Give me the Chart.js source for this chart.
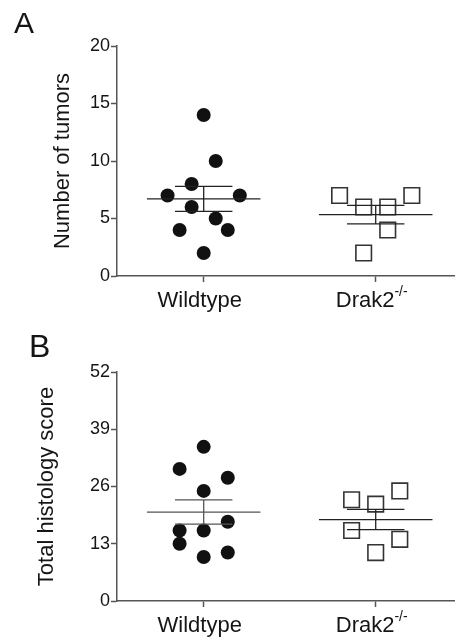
<!DOCTYPE html>
<html>
<head>
<meta charset="utf-8">
<script src="https://cdn.jsdelivr.net/npm/chart.js@4"></script>
<style>
  html, body { margin: 0; padding: 0; background: #fff; }
  .panel { position: relative; width: 455px; }
</style>
</head>
<body>
<div class="panel" style="height:320px"><canvas id="chartA" width="455" height="320"></canvas></div>
<div class="panel" style="height:318px"><canvas id="chartB" width="455" height="318"></canvas></div>
<script>
// groups on the x axis (second one gets a superscript)
const groups = ['Wildtype', 'Drak2'];
const groupSup = ['', '-/-'];

// panel A: number of tumors
const tumorsWT = [14, 10, 8, 7, 7, 6, 5, 4, 4, 2];
const tumorsKO = [7, 6, 6, 7, 4, 2];
// scatter slot of each dot (1 slot = one dot width sideways)
const tumorsWTSlot = [0, 1, -1, -3, 3, -1, 1, -2, 2, 0];
const tumorsKOSlot = [-3, -1, 1, 3, 1, -1];
const tumorsTicks = [0, 5, 10, 15, 20];

// panel B: total histology score
const histoWT = [35, 30, 28, 25, 18, 16, 16, 13, 11, 10];
const histoKO = [25, 23, 22, 16, 14, 11];
const histoWTSlot = [0, -2, 2, 0, 2, -2, 0, -2, 2, 0];
const histoKOSlot = [2, -2, 0, -2, 2, 0];
const histoTicks = [0, 13, 26, 39, 52];

const FONT = "'Liberation Sans', Arial, Helvetica, sans-serif";
const SLOT = 0.07;
const AXIS = '#555';
const TEXT = '#151515';

const mean = a => a.reduce((s, v) => s + v, 0) / a.length;
const sem = a => {
  const m = mean(a);
  return Math.sqrt(a.reduce((s, v) => s + (v - m) ** 2, 0) / (a.length - 1) / a.length);
};

function dots(vals, slots, center) {
  return vals.map((v, i) => ({ x: center + slots[i] * SLOT, y: v }));
}

function seg(x1, y1, x2, y2, color) {
  return {
    data: [{ x: x1, y: y1 }, { x: x2, y: y2 }],
    showLine: true, borderColor: color, borderWidth: 1.3,
    pointRadius: 0, order: 0
  };
}

// mean line + SEM whiskers
function summary(vals, center, color) {
  const m = mean(vals), s = sem(vals);
  return [
    seg(center - 0.33, m, center + 0.33, m, color),
    seg(center - 0.167, m + s, center + 0.167, m + s, color),
    seg(center - 0.167, m - s, center + 0.167, m - s, color),
    seg(center, m - s, center, m + s, color)
  ];
}

const labelsPlugin = {
  id: 'panelLabels',
  afterDraw(chart, args, opts) {
    const ctx = chart.ctx, xs = chart.scales.x, area = chart.chartArea;
    ctx.save();
    ctx.fillStyle = TEXT;
    ctx.textAlign = 'left';
    ctx.textBaseline = 'alphabetic';
    ctx.font = opts.letterSize + 'px ' + FONT;
    ctx.fillText(opts.letter, opts.letterX, opts.letterY);
    groups.forEach((g, i) => {
      const cx = xs.getPixelForValue(i + 1) - 4;
      ctx.font = '22px ' + FONT;
      const w1 = ctx.measureText(g).width;
      ctx.font = '14px ' + FONT;
      const w2 = groupSup[i] ? ctx.measureText(groupSup[i]).width : 0;
      const left = cx - (w1 + w2) / 2;
      const base = area.bottom + 31;
      ctx.font = '22px ' + FONT;
      ctx.fillText(g, left, base);
      if (groupSup[i]) {
        ctx.font = '14px ' + FONT;
        ctx.fillText(groupSup[i], left + w1, base - 11);
      }
    });
    ctx.restore();
  }
};

function makeChart(id, p) {
  const datasets = [
    ...summary(p.wt, 1, p.wtLine),
    ...summary(p.ko, 2, p.koLine),
    {
      data: dots(p.wt, p.wtSlot, 1),
      pointStyle: 'circle', pointRadius: 7,
      backgroundColor: '#111', borderColor: '#111', borderWidth: 0, order: 1
    },
    {
      data: dots(p.ko, p.koSlot, 2),
      pointStyle: 'rect', pointRadius: 11,
      backgroundColor: '#fff', borderColor: '#333', borderWidth: 1.6, order: 1
    }
  ];
  return new Chart(document.getElementById(id), {
    type: 'scatter',
    data: { datasets },
    options: {
      responsive: false,
      animation: false,
      events: [],
      layout: { autoPadding: false, padding: { top: p.top, bottom: p.bottom, left: 0, right: 0 } },
      plugins: {
        legend: { display: false },
        tooltip: { enabled: false },
        panelLabels: { letter: p.letter, letterX: p.letterX, letterY: p.letterY, letterSize: p.letterSize }
      },
      scales: {
        x: {
          type: 'linear', min: 0.496, max: 2.461,
          afterBuildTicks: s => { s.ticks = groups.map((g, i) => ({ value: i + 1 })); },
          ticks: { display: false },
          grid: { drawOnChartArea: false, tickLength: 6, color: AXIS, tickWidth: 1.5 },
          border: { color: AXIS, width: 1.5 }
        },
        y: {
          min: p.ticks[0], max: p.ticks[p.ticks.length - 1],
          afterBuildTicks: s => { s.ticks = p.ticks.map(v => ({ value: v })); },
          afterFit: s => { s.width = 117; },
          ticks: { font: { family: FONT, size: 18 }, color: TEXT, padding: 1 },
          grid: { drawOnChartArea: false, tickLength: 6, color: AXIS, tickWidth: 1.5 },
          border: { color: AXIS, width: 1.5 },
          title: {
            display: true, text: p.title, color: TEXT,
            font: { family: FONT, size: 22 }, padding: { top: p.titlePad, bottom: 0 }
          }
        }
      }
    },
    plugins: [labelsPlugin]
  });
}

makeChart('chartA', {
  wt: tumorsWT, ko: tumorsKO, wtSlot: tumorsWTSlot, koSlot: tumorsKOSlot,
  ticks: tumorsTicks, title: 'Number of tumors',
  wtLine: '#222', koLine: '#222',
  top: 46, bottom: 38, titlePad: 50,
  letter: 'A', letterX: 14, letterY: 33, letterSize: 30
});

makeChart('chartB', {
  wt: histoWT, ko: histoKO, wtSlot: histoWTSlot, koSlot: histoKOSlot,
  ticks: histoTicks, title: 'Total histology score',
  wtLine: '#555', koLine: '#222',
  top: 52, bottom: 31, titlePad: 34,
  letter: 'B', letterX: 29, letterY: 37, letterSize: 32
});
</script>
</body>
</html>
